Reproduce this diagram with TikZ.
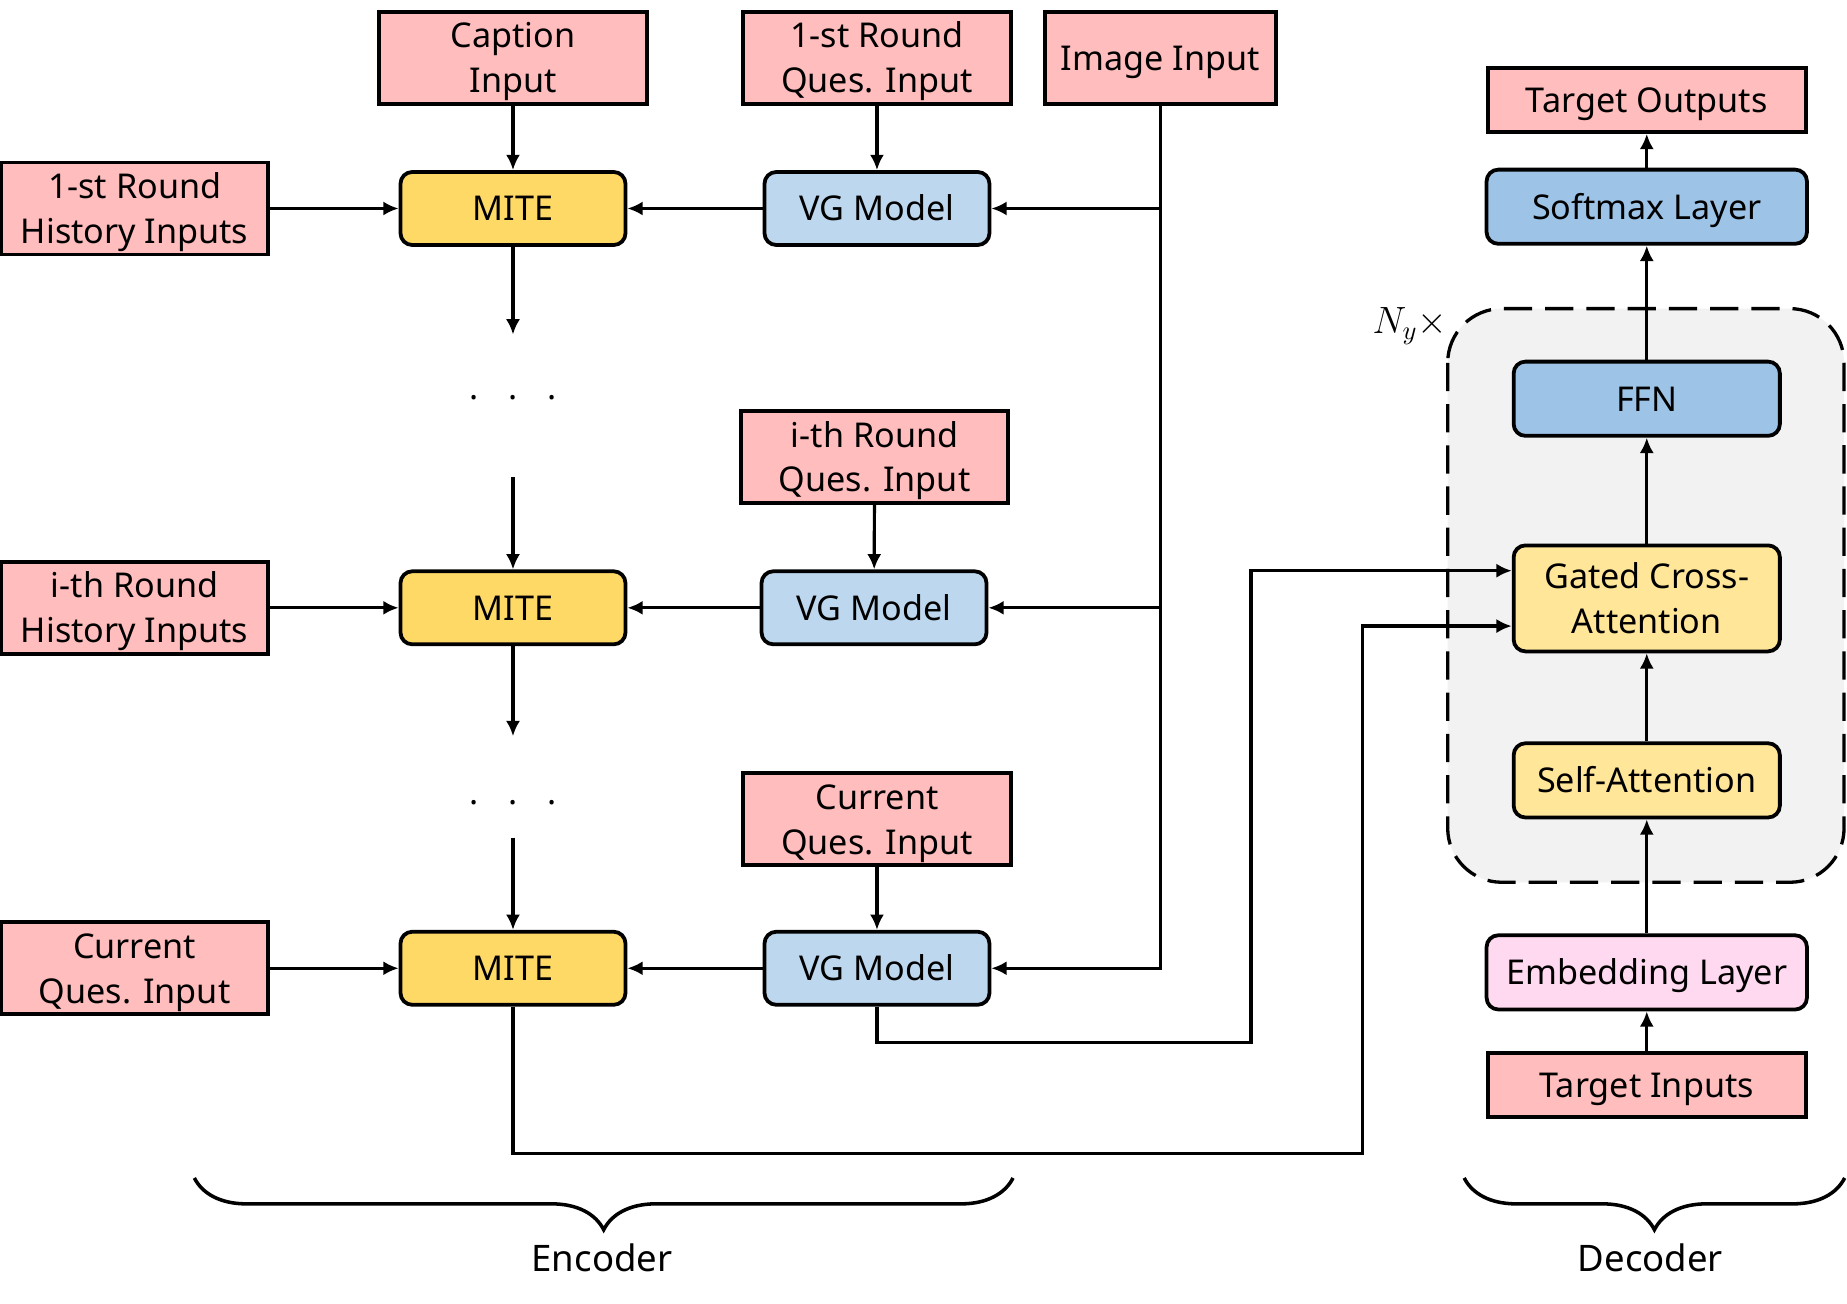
\documentclass[tikz,border=0pt]{standalone}
\usepackage{fontspec}
\setmainfont{Noto Sans}
\usetikzlibrary{positioning,arrows.meta,decorations.pathreplacing}
\definecolor{inpink}{HTML}{FFBDBD}
\definecolor{miteyel}{HTML}{FFD966}
\definecolor{vgblue}{HTML}{BDD7EE}
\definecolor{layblue}{HTML}{9DC3E6}
\definecolor{attyel}{HTML}{FFE699}
\definecolor{embpink}{HTML}{FFD9F0}
\definecolor{nygray}{HTML}{F2F2F2}
\tikzset{
inbox/.style={
  draw=black,
  fill=inpink,
  line width=1.6pt,
  minimum width=113.5pt,
  minimum height=39pt,
  inner sep=0pt,
  text height=10.5pt,
  text depth=0pt,
  align=center
  },
blk/.style={
  draw=black,
  line width=1.6pt,
  rounded corners=5pt,
  minimum width=95.5pt,
  minimum height=31pt,
  inner sep=0pt,
  text height=10.5pt,
  text depth=0pt,
  align=center
  },
twoline/.style={text height=29.5pt,text depth=0pt},
mite/.style={blk,fill=miteyel},
vg/.style={blk,fill=vgblue},
layer/.style={blk,fill=layblue,minimum width=113pt,minimum height=31.5pt},
attn/.style={blk,fill=attyel,minimum width=113pt,minimum height=31.5pt},
tgt/.style={inbox,minimum width=135pt,minimum height=27pt},
conn/.style={->,line width=1.35pt},
nybox/.style={draw=black,fill=nygray,line width=1.4pt,dash pattern=on 12pt off 5.5pt,rounded corners=23pt},
brc/.style={decorate,decoration={brace,mirror,amplitude=22pt},line width=1.5pt}
}

\begin{document}
\begin{tikzpicture}[x=0.5pt,y=-0.5pt,>={Latex[length=6.5pt,width=6pt]},
  font=\fontsize{14.5}{19}\selectfont]

\useasboundingbox (0,0) rectangle (1568,1107);

\node[inbox,twoline] (cap) at (435.5,49) {Caption\\Input};
\node[inbox,twoline] (ques1) at (744.5,49) {1-st Round\\Ques. Input};
\node[inbox,minimum width=98pt] (img) at (985,49) {Image Input};

\node[mite] (mite1) at (435.5,177) {MITE};
\node[vg] (vg1) at (744.5,177) {VG Model};
\node[inbox,twoline,left=54.5pt of mite1] (hist1) {1-st Round\\History Inputs};

\coordinate (d1a) at (435.5,284);
\node (dots1) at (435.5,338) {.\hspace{12.5pt}.\hspace{12.5pt}.};
\coordinate (d1b) at (435.5,405);

\node[inbox,twoline] (quesi) at (742.5,388) {i-th Round\\Ques. Input};
\node[mite] (mite2) at (435.5,516) {MITE};
\node[vg] (vg2) at (742,516) {VG Model};
\node[inbox,twoline,left=54.5pt of mite2] (hist2) {i-th Round\\History Inputs};

\coordinate (d2a) at (435.5,625);
\node (dots2) at (435.5,681) {.\hspace{12.5pt}.\hspace{12.5pt}.};
\coordinate (d2b) at (435.5,711);

\node[inbox,twoline] (quesc) at (744.5,695.5) {Current\\Ques. Input};
\node[mite] (mite3) at (435.5,822) {MITE};
\node[vg] (vg3) at (744.5,822) {VG Model};
\node[inbox,twoline,left=54.5pt of mite3] (histc) {Current\\Ques. Input};

\draw[nybox] (1229,262) rectangle (1565.5,749);
\node[scale=1.12] (ny) at (1197,277) {$N_y\times$};

\node[tgt] (tout) at (1398,85) {Target Outputs};
\node[layer,minimum width=136pt] (soft) at (1398,175.5) {Softmax Layer};
\node[layer] (ffn) at (1398,338.5) {FFN};
\node[attn,twoline,minimum height=45pt] (gca) at (1398,508) {Gated Cross-\\Attention};
\node[attn] (self) at (1398,662.5) {Self-Attention};
\node[blk,fill=embpink,minimum width=136pt,minimum height=31.5pt] (emb) at (1398,825.5) {Embedding Layer};
\node[tgt] (tin) at (1398,921) {Target Inputs};

\draw[conn] (cap) -- (mite1);
\draw[conn] (ques1) -- (vg1);
\draw[conn] (hist1) -- (mite1);
\draw[conn] (vg1) -- (mite1);
\draw[conn] (mite1) -- (d1a);
\draw[conn] (d1b) -- (mite2);
\draw[conn] (quesi) -- (vg2);
\draw[conn] (hist2) -- (mite2);
\draw[conn] (vg2) -- (mite2);
\draw[conn] (mite2) -- (d2a);
\draw[conn] (d2b) -- (mite3);
\draw[conn] (quesc) -- (vg3);
\draw[conn] (histc) -- (mite3);
\draw[conn] (vg3) -- (mite3);

\draw[conn] (img.south) |- (vg3);
\draw[conn] (img |- vg1) -- (vg1);
\draw[conn] (img |- vg2) -- (vg2);

\draw[conn] (vg3.south) |- (1062,885) |- ([yshift=11.75pt]gca.west);
\draw[conn] (mite3.south) |- (1157,979) |- ([yshift=-11.75pt]gca.west);

\draw[conn] (tin) -- (emb);
\draw[conn] (emb) -- (self);
\draw[conn] (self) -- (gca);
\draw[conn] (gca) -- (ffn);
\draw[conn] (ffn) -- (soft);
\draw[conn] (soft) -- (tout);

\draw[brc] (165,1000) -- (860,1000);
\draw[brc] (1243,1000) -- (1566,1000);
\node[font=\fontsize{15.5}{19}\selectfont] (enc) at (511,1068) {Encoder};
\node[font=\fontsize{15.5}{19}\selectfont] (dec) at (1401,1068) {Decoder};

\end{tikzpicture}
\end{document}
